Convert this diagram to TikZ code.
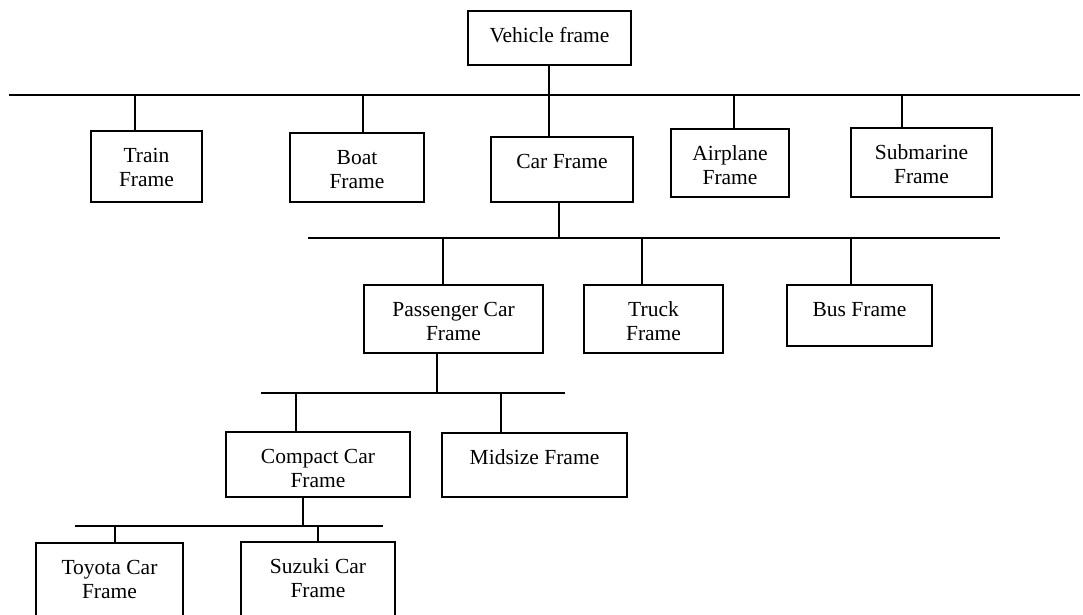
\documentclass[tikz,border=0pt]{standalone}
\usepackage{fontspec}
\setmainfont{Liberation Serif}
\tikzset{
  boxst/.style={draw, line width=2.2pt, rectangle, inner sep=0pt},
  txt/.style={font=\fontsize{21.5}{24}\selectfont, align=center, anchor=north, inner sep=0pt},
  conn/.style={line width=2pt},
}
\newcommand\fbx[6]{%
  \node[boxst, minimum width={#4-#2}, minimum height={#5-#3}] (#1) at ({(#2+#4)/2},{(#3+#5)/2}) {};
  \node[txt] (#1-t) at ([yshift=-15.2pt]#1.north) {\strut #6};
}
\begin{document}
\begin{tikzpicture}[x=1pt,y=-1pt]
\useasboundingbox (0,0) rectangle (1083,614);
\clip (0,0) rectangle (1083,614);
% boxes
\fbx{vehicle}{468}{11}{631}{65}{Vehicle frame}
\fbx{train}{91}{131}{202}{202}{Train\\Frame}
\fbx{boat}{290}{133}{424}{202}{Boat\\Frame}
\fbx{car}{491}{137}{633}{202}{Car Frame}
\fbx{airplane}{671}{129}{789}{197}{Airplane\\Frame}
\fbx{submarine}{851}{128}{992}{197}{Submarine\\Frame}
\fbx{passenger}{364}{285}{543}{353}{Passenger Car\\Frame}
\fbx{truck}{584}{285}{723}{353}{Truck\\Frame}
\fbx{bus}{787}{285}{932}{346}{Bus Frame}
\fbx{compact}{226}{432}{410}{497}{Compact Car\\Frame}
\fbx{midsize}{442}{433}{627}{497}{Midsize Frame}
\fbx{toyota}{36}{543}{183}{640}{Toyota Car\\Frame}
\fbx{suzuki}{241}{542}{395}{640}{Suzuki Car\\Frame}
% bus lines
\coordinate (b1l) at (9,95);   \coordinate (b1r) at (1080,95);
\coordinate (b2l) at (308,238); \coordinate (b2r) at (1000,238);
\coordinate (b3l) at (261,393); \coordinate (b3r) at (565,393);
\coordinate (b4l) at (75,526);  \coordinate (b4r) at (383,526);
\draw[conn] (b1l) -- (b1r);
\draw[conn] (b2l) -- (b2r);
\draw[conn] (b3l) -- (b3r);
\draw[conn] (b4l) -- (b4r);
% taps
\coordinate (tvehicle) at (549,95);
\coordinate (ttrain) at (135,95);
\coordinate (tboat) at (363,95);
\coordinate (tairplane) at (734,95);
\coordinate (tsubmarine) at (902,95);
\coordinate (tcar) at (559,238);
\coordinate (tpassenger) at (443,238);
\coordinate (ttruck) at (642,238);
\coordinate (tbus) at (851,238);
\coordinate (tpass2) at (437,393);
\coordinate (tcompact) at (296,393);
\coordinate (tmidsize) at (501,393);
\coordinate (tcomp2) at (303,526);
\coordinate (ttoyota) at (115,526);
\coordinate (tsuzuki) at (318,526);
\draw[conn] (tvehicle |- vehicle.south) -- (tvehicle);
\draw[conn] (tvehicle) -- (tvehicle |- car.north);
\draw[conn] (ttrain) -- (ttrain |- train.north);
\draw[conn] (tboat) -- (tboat |- boat.north);
\draw[conn] (tairplane) -- (tairplane |- airplane.north);
\draw[conn] (tsubmarine) -- (tsubmarine |- submarine.north);
\draw[conn] (tcar |- car.south) -- (tcar);
\draw[conn] (tpassenger) -- (tpassenger |- passenger.north);
\draw[conn] (ttruck) -- (ttruck |- truck.north);
\draw[conn] (tbus) -- (tbus |- bus.north);
\draw[conn] (tpass2 |- passenger.south) -- (tpass2);
\draw[conn] (tcompact) -- (tcompact |- compact.north);
\draw[conn] (tmidsize) -- (tmidsize |- midsize.north);
\draw[conn] (tcomp2 |- compact.south) -- (tcomp2);
\draw[conn] (ttoyota) -- (ttoyota |- toyota.north);
\draw[conn] (tsuzuki) -- (tsuzuki |- suzuki.north);
\end{tikzpicture}
\end{document}
